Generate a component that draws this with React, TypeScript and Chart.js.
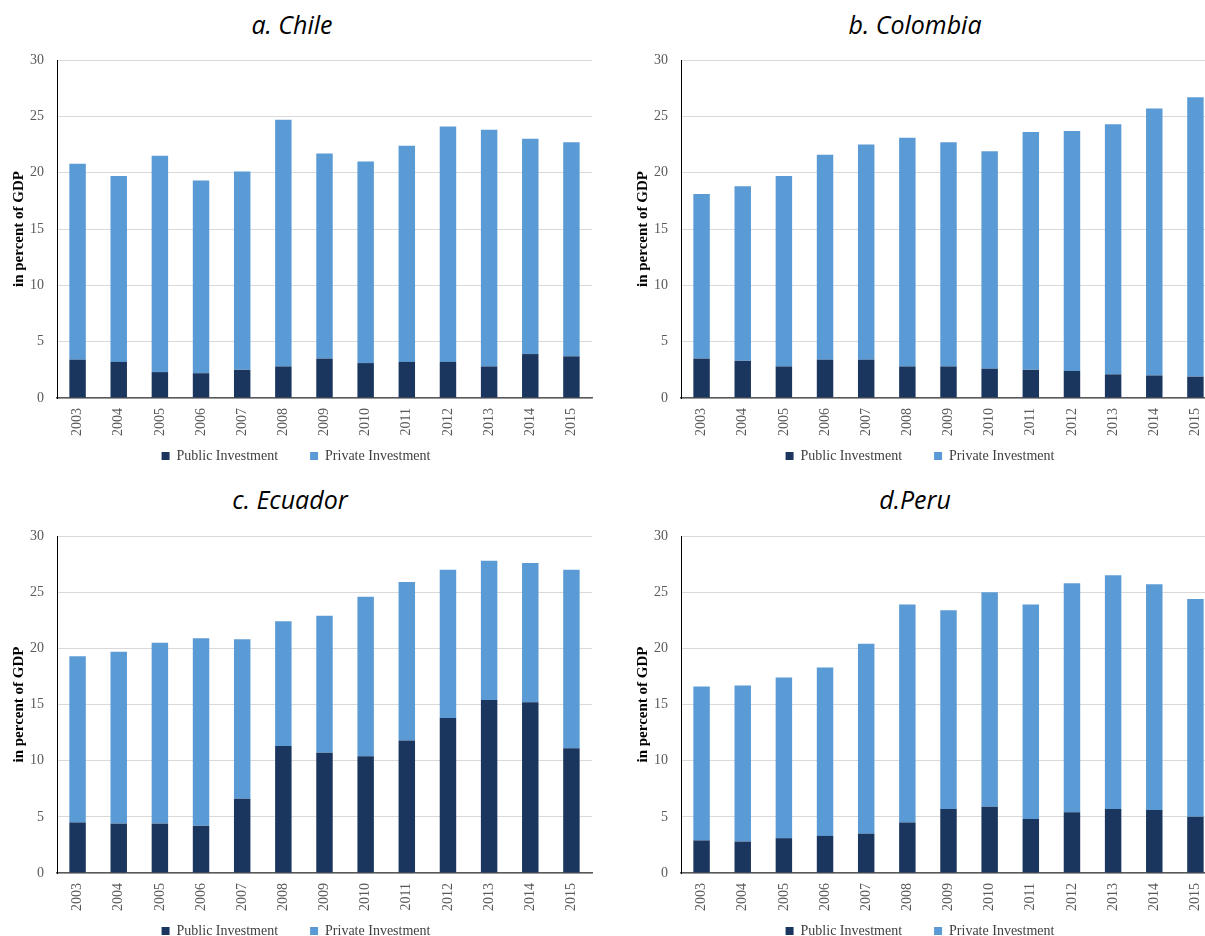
import React, { useEffect, useRef } from "react";
import { Chart, registerables } from "chart.js";

Chart.register(...registerables);

const years = ["2003", "2004", "2005", "2006", "2007", "2008", "2009", "2010", "2011", "2012", "2013", "2014", "2015"];
const yTicks = [0, 5, 10, 15, 20, 25, 30];

const chilePublic = [3.4, 3.2, 2.3, 2.2, 2.5, 2.8, 3.5, 3.1, 3.2, 3.2, 2.8, 3.9, 3.7];
const chilePrivate = [17.4, 16.5, 19.2, 17.1, 17.6, 21.9, 18.2, 17.9, 19.2, 20.9, 21.0, 19.1, 19.0];

const colombiaPublic = [3.5, 3.3, 2.8, 3.4, 3.4, 2.8, 2.8, 2.6, 2.5, 2.4, 2.1, 2.0, 1.9];
const colombiaPrivate = [14.6, 15.5, 16.9, 18.2, 19.1, 20.3, 19.9, 19.3, 21.1, 21.3, 22.2, 23.7, 24.8];

const ecuadorPublic = [4.5, 4.4, 4.4, 4.2, 6.6, 11.3, 10.7, 10.4, 11.8, 13.8, 15.4, 15.2, 11.1];
const ecuadorPrivate = [14.8, 15.3, 16.1, 16.7, 14.2, 11.1, 12.2, 14.2, 14.1, 13.2, 12.4, 12.4, 15.9];

const peruPublic = [2.9, 2.8, 3.1, 3.3, 3.5, 4.5, 5.7, 5.9, 4.8, 5.4, 5.7, 5.6, 5.0];
const peruPrivate = [13.7, 13.9, 14.3, 15.0, 16.9, 19.4, 17.7, 19.1, 19.1, 20.4, 20.8, 20.1, 19.4];

const seriesNames = ["Public Investment", "Private Investment"];
const yAxisTitle = "in percent of GDP";

const DARK = "#1b365e";
const LIGHT = "#5b9bd5";
const SERIF = "'Liberation Serif', 'DejaVu Serif', serif";
const LEGEND_GAP = "      ";

type PanelProps = {
  title: string;
  pub: number[];
  priv: number[];
  left: number;
  top: number;
  height: number;
  padTop: number;
  titleX: number;
  titleTop: number;
};

function Panel(props: PanelProps) {
  const ref = useRef<HTMLCanvasElement | null>(null);
  useEffect(() => {
    if (!ref.current) return;
    const baseGen = (Chart as any).defaults.plugins.legend.labels.generateLabels;
    const chart = new Chart(ref.current, {
      type: "bar",
      data: {
        labels: years,
        datasets: [
          { label: seriesNames[0], data: props.pub, backgroundColor: DARK, barPercentage: 0.4, categoryPercentage: 1 },
          { label: seriesNames[1], data: props.priv, backgroundColor: LIGHT, barPercentage: 0.4, categoryPercentage: 1 },
        ],
      },
      options: {
        responsive: false,
        animation: false,
        devicePixelRatio: 1,
        layout: { padding: { top: props.padTop, left: 0, right: 8, bottom: 0 } },
        plugins: {
          legend: {
            position: "bottom",
            labels: {
              boxWidth: 8,
              boxHeight: 8,
              padding: 11,
              color: "#404040",
              font: { family: SERIF, size: 14 },
              generateLabels: (c: any) =>
                baseGen(c).map((it: any, i: number) => (i === 0 ? { ...it, text: it.text + LEGEND_GAP } : it)),
            },
          },
          tooltip: { enabled: false },
          title: { display: false },
        },
        scales: {
          x: {
            stacked: true,
            grid: { display: false, drawTicks: false },
            border: { display: true, color: "#595959", width: 1.5 },
            ticks: {
              autoSkip: false,
              minRotation: 90,
              maxRotation: 90,
              padding: 10,
              color: "#595959",
              font: { family: SERIF, size: 14 },
            },
            afterFit: (s: any) => {
              s.height = 40;
            },
          },
          y: {
            stacked: true,
            min: yTicks[0],
            max: yTicks[yTicks.length - 1],
            ticks: {
              stepSize: 5,
              padding: 13,
              color: "#595959",
              font: { family: SERIF, size: 14 },
            },
            grid: { color: "#d9d9d9", drawTicks: false },
            border: { display: true, color: "#000000", width: 1 },
            title: {
              display: true,
              text: yAxisTitle,
              color: "#000000",
              padding: 10,
              font: { family: SERIF, size: 15, weight: "bold" },
            },
            afterFit: (s: any) => {
              s.width = 57;
            },
          },
        },
      },
    } as any);
    return () => chart.destroy();
  }, []);

  return (
    <>
      <div
        style={{
          position: "absolute",
          left: props.titleX,
          top: props.titleTop,
          transform: "translateX(-50%)",
          fontFamily: "'Open Sans', sans-serif",
          fontStyle: "italic",
          fontSize: 25,
          lineHeight: "30px",
          color: "#000",
          whiteSpace: "nowrap",
        }}
      >
        {props.title}
      </div>
      <canvas
        ref={ref}
        width={600}
        height={props.height}
        style={{ position: "absolute", left: props.left, top: props.top, width: 600, height: props.height }}
      />
    </>
  );
}

export default function App() {
  return (
    <div
      style={{
        position: "absolute",
        left: 0,
        top: 0,
        width: 1205,
        height: 936,
        overflow: "hidden",
        background: "#ffffff",
      }}
    >
      <Panel title="a. Chile" pub={chilePublic} priv={chilePrivate} left={0} top={0} height={473} padTop={60} titleX={292} titleTop={9} />
      <Panel title="b. Colombia" pub={colombiaPublic} priv={colombiaPrivate} left={624} top={0} height={473} padTop={60} titleX={915} titleTop={9} />
      <Panel title="c. Ecuador" pub={ecuadorPublic} priv={ecuadorPrivate} left={0} top={473} height={475} padTop={63} titleX={290} titleTop={484} />
      <Panel title="d.Peru" pub={peruPublic} priv={peruPrivate} left={624} top={473} height={475} padTop={63} titleX={915} titleTop={484} />
    </div>
  );
}
